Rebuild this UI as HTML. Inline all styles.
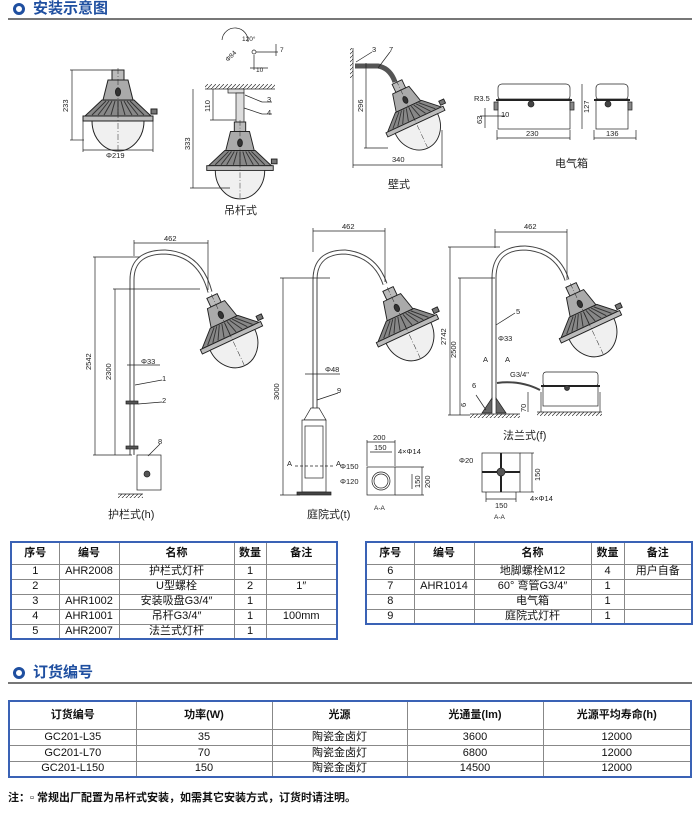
<!DOCTYPE html>
<html><head><meta charset="utf-8">
<style>
*{margin:0;padding:0;box-sizing:border-box}
body{width:700px;height:834px;background:#fff;position:relative;overflow:hidden;font-family:"Liberation Sans","Noto Sans CJK SC",sans-serif;color:#111}
.hd{position:absolute;left:8px;width:684px;border-bottom:2px solid #777;height:20px}
.hd span{position:absolute;left:25px;top:0;font-size:15px;font-weight:bold;color:#1f4fa0;line-height:18px}
.hd i{position:absolute;left:5px;top:3px;width:12px;height:12px;border:3px solid #1f4fa0;border-radius:50%}
table{position:absolute;border-collapse:collapse;border:2px solid #3a62b5;font-size:11px;text-align:center}
td{border:1px solid #888;padding:0;line-height:13px}
tr.h td{font-weight:bold;height:22px}
svg{position:absolute;left:0;top:0}
svg text{font-family:"Liberation Sans","Noto Sans CJK SC",sans-serif;fill:#222}
</style></head><body>
<div class="hd" style="top:0"><i></i><span>安装示意图</span></div>

<svg width="700" height="530" viewBox="0 0 700 530">
<defs>
<g id="lamp" stroke="#222" stroke-width="1" fill="#fff">
<rect x="-6" y="0" width="12" height="10" fill="#bbb"/>
<path d="M-10 10 L10 10 L15 30 L-15 30 Z" fill="#aaa"/>
<path d="M-16 30 L16 30 L33 46 L-33 46 Z" fill="#888"/>
<path d="M-12 31 L-26 45 M-6 31 L-14 45 M0 31 L0 45 M6 31 L14 45 M12 31 L26 45 M-9 31 L-20 45 M9 31 L20 45 M-3 31 L-7 45 M3 31 L7 45" stroke="#333"/>
<rect x="-35" y="46" width="70" height="5" fill="#bbb"/>
<path d="M-26 51 A26 30 0 0 0 26 51 Z" fill="#f0f0f0"/>
<line x1="0" y1="-2" x2="0" y2="80" stroke-dasharray="6 2 1 2" stroke-width="0.5"/>
<ellipse cx="0" cy="22" rx="2.5" ry="4" fill="#333"/>
<rect x="33" y="39" width="6" height="5" fill="#777"/>
</g>
<pattern id="hat" width="4" height="4" patternUnits="userSpaceOnUse"><path d="M0 4 L4 0" stroke="#333" stroke-width="0.7"/></pattern>
</defs>
<g stroke="#222" stroke-width="0.7" fill="none" font-size="8">
<use href="#lamp" transform="translate(118,70)"/>
<line x1="70" y1="70" x2="112" y2="70"/><line x1="70" y1="140" x2="84" y2="140"/><line x1="72" y1="70" x2="72" y2="140"/>
<line x1="83" y1="120" x2="83" y2="152"/><line x1="153" y1="120" x2="153" y2="152"/><line x1="83" y1="150" x2="153" y2="150"/>
<path d="M222 40 A12 12 0 0 1 248 42" /><circle cx="254" cy="52" r="2"/><line x1="256" y1="52" x2="278" y2="52"/><line x1="250" y1="68" x2="268" y2="68"/><line x1="276" y1="44" x2="276" y2="56"/><line x1="254" y1="55" x2="254" y2="70"/>
<line x1="205" y1="89" x2="275" y2="89"/><rect x="205" y="84" width="70" height="5" fill="url(#hat)" stroke="none"/>
<rect x="228" y="89" width="16" height="4" fill="#ddd"/><rect x="236" y="93" width="8" height="30" fill="#ddd"/>
<use href="#lamp" transform="translate(240,122) scale(0.95)"/>
<line x1="193" y1="89" x2="193" y2="188"/><line x1="190" y1="188" x2="230" y2="188"/>
<line x1="213" y1="89" x2="213" y2="120"/><line x1="210" y1="120" x2="236" y2="120"/>
<line x1="245" y1="95" x2="262" y2="102"/><line x1="262" y1="102" x2="272" y2="102"/><line x1="244" y1="108" x2="262" y2="114"/><line x1="262" y1="114" x2="272" y2="114"/>
<rect x="350" y="48" width="3" height="30" fill="url(#hat)" stroke="none"/><line x1="353" y1="48" x2="353" y2="80"/>
<path d="M355 66 L378 66 Q390 68 395 82" stroke-width="5" stroke="#555"/>
<use href="#lamp" transform="translate(397,82) rotate(-25) scale(0.9)"/>
<line x1="366" y1="63" x2="366" y2="148"/><line x1="364" y1="148" x2="388" y2="148"/>
<line x1="353" y1="80" x2="353" y2="168"/><line x1="442" y1="130" x2="442" y2="168"/><line x1="353" y1="165" x2="442" y2="165"/>
<line x1="356" y1="62" x2="372" y2="52"/><line x1="378" y1="68" x2="390" y2="52"/>
<rect x="498" y="84" width="72" height="16" rx="4" fill="#fff"/><rect x="498" y="99" width="72" height="30" fill="#fff"/><line x1="496" y1="100" x2="572" y2="100" stroke-width="2"/>
<circle cx="531" cy="104" r="3" fill="#444"/><rect x="494" y="102" width="4" height="8" fill="#888"/><rect x="570" y="102" width="4" height="8" fill="#888"/>
<rect x="596" y="84" width="32" height="16" rx="4"/><rect x="596" y="99" width="32" height="30"/><line x1="594" y1="100" x2="630" y2="100" stroke-width="2"/><circle cx="608" cy="104" r="3" fill="#444"/><rect x="628" y="102" width="4" height="8" fill="#888"/>
<line x1="497" y1="130" x2="497" y2="140"/><line x1="570" y1="130" x2="570" y2="140"/><line x1="497" y1="138" x2="570" y2="138"/>
<line x1="594" y1="130" x2="594" y2="140"/><line x1="636" y1="130" x2="636" y2="140"/><line x1="594" y1="138" x2="636" y2="138"/>
<line x1="582" y1="84" x2="582" y2="129"/><line x1="485" y1="108" x2="485" y2="128"/><line x1="480" y1="116" x2="505" y2="116"/>
<path d="M132 455 L132 280 Q132 252 165 252 Q200 254 210 292" stroke="#444" stroke-width="5"/>
<path d="M132 455 L132 280 Q132 252 165 252 Q200 254 210 292" stroke="#fff" stroke-width="3"/>
<use href="#lamp" transform="translate(212,296) rotate(-25) scale(0.95)"/>
<rect x="137" y="455" width="24" height="35" fill="#fff"/><circle cx="147" cy="474" r="3" fill="#555"/>
<rect x="126" y="401" width="12" height="3" fill="#555"/><rect x="126" y="446" width="12" height="3" fill="#555"/>
<rect x="118" y="494" width="25" height="4" fill="url(#hat)" stroke="none"/><line x1="118" y1="494" x2="143" y2="494"/>
<line x1="134" y1="240" x2="134" y2="256"/><line x1="208" y1="240" x2="208" y2="290"/><line x1="134" y1="243" x2="208" y2="243"/>
<line x1="93" y1="257" x2="140" y2="257"/><line x1="95" y1="257" x2="95" y2="455"/><line x1="93" y1="455" x2="132" y2="455"/>
<line x1="113" y1="289" x2="200" y2="289"/><line x1="115" y1="289" x2="115" y2="455"/>
<line x1="127" y1="365" x2="160" y2="365"/><line x1="135" y1="385" x2="162" y2="380"/><line x1="138" y1="404" x2="162" y2="402"/><line x1="148" y1="456" x2="160" y2="444"/>
<path d="M315 408 L315 280 Q315 252 345 252 Q375 255 385 284" stroke="#444" stroke-width="5"/>
<path d="M315 408 L315 280 Q315 252 345 252 Q375 255 385 284" stroke="#fff" stroke-width="3"/>
<use href="#lamp" transform="translate(388,289) rotate(-25) scale(0.95)"/>
<path d="M311 408 L319 408 L326 420 L304 420 Z" fill="#fff"/><rect x="302" y="420" width="24" height="72" fill="#fff"/><rect x="305" y="426" width="18" height="52"/><rect x="297" y="492" width="34" height="3" fill="#444"/>
<line x1="313" y1="228" x2="313" y2="252"/><line x1="385" y1="228" x2="385" y2="282"/><line x1="313" y1="231" x2="385" y2="231"/>
<line x1="280" y1="278" x2="330" y2="278"/><line x1="283" y1="278" x2="283" y2="495"/><line x1="280" y1="495" x2="300" y2="495"/>
<line x1="305" y1="374" x2="340" y2="374"/><line x1="317" y1="400" x2="338" y2="393"/><line x1="295" y1="466" x2="335" y2="466" stroke-dasharray="3 2"/>
<rect x="367" y="467" width="28" height="28"/><circle cx="381" cy="481" r="9"/><circle cx="381" cy="481" r="7"/>
<line x1="367" y1="442" x2="395" y2="442"/><line x1="370" y1="452" x2="392" y2="452"/><line x1="367" y1="440" x2="367" y2="466"/><line x1="395" y1="440" x2="395" y2="466"/>
<line x1="412" y1="474" x2="412" y2="489"/><line x1="422" y1="467" x2="422" y2="495"/><line x1="395" y1="467" x2="424" y2="467"/><line x1="395" y1="495" x2="424" y2="495"/>
<path d="M494 400 L494 278 Q494 248 525 248 Q557 250 567 280" stroke="#444" stroke-width="5"/>
<path d="M494 400 L494 278 Q494 248 525 248 Q557 250 567 280" stroke="#fff" stroke-width="3"/>
<use href="#lamp" transform="translate(571,285) rotate(-25) scale(0.95)"/>
<path d="M482 413 L492 398 L492 413 Z M506 413 L496 398 L496 413 Z" fill="#666"/>
<line x1="470" y1="414" x2="520" y2="414"/><rect x="470" y="414" width="50" height="4" fill="url(#hat)" stroke="none"/>
<path d="M497 383 Q520 380 540 390" stroke="#444" stroke-width="2"/>
<rect x="543" y="372" width="55" height="14" rx="3"/><rect x="543" y="386" width="55" height="20"/><line x1="541" y1="386" x2="600" y2="386" stroke-width="2"/><circle cx="567" cy="388" r="2.5" fill="#444"/>
<line x1="537" y1="412" x2="602" y2="412"/><rect x="537" y="412" width="65" height="4" fill="url(#hat)" stroke="none"/><line x1="541" y1="392" x2="541" y2="412"/><line x1="600" y1="392" x2="600" y2="412"/>
<line x1="495" y1="229" x2="495" y2="248"/><line x1="567" y1="229" x2="567" y2="280"/><line x1="495" y1="232" x2="567" y2="232"/>
<line x1="448" y1="247" x2="500" y2="247"/><line x1="450" y1="247" x2="450" y2="415"/><line x1="448" y1="415" x2="470" y2="415"/>
<line x1="458" y1="278" x2="495" y2="278"/><line x1="460" y1="278" x2="460" y2="415"/>
<line x1="528" y1="392" x2="528" y2="412"/><line x1="496" y1="325" x2="515" y2="313"/><line x1="476" y1="395" x2="486" y2="410"/>
<rect x="482" y="453" width="38" height="39"/><line x1="501" y1="453" x2="501" y2="492" stroke-width="2"/><line x1="482" y1="472" x2="520" y2="472" stroke-width="2"/><circle cx="501" cy="472" r="4" fill="#555"/>
<line x1="520" y1="453" x2="534" y2="453"/><line x1="520" y1="492" x2="534" y2="492"/><line x1="532" y1="453" x2="532" y2="492"/>
<line x1="486" y1="499" x2="516" y2="499"/><line x1="486" y1="492" x2="486" y2="502"/><line x1="516" y1="492" x2="516" y2="502"/>
</g>
<g font-size="7.5" stroke="none">
<text x="68" y="112" transform="rotate(-90 68 112)">233</text>
<text x="106" y="158">Φ219</text>
<text x="228" y="62" transform="rotate(-45 228 62)" font-size="6.5">Φ84</text>
<text x="242" y="41" font-size="6.5">120°</text><text x="256" y="72" font-size="6.5">10</text><text x="280" y="52" font-size="6.5">7</text>
<text x="190" y="150" transform="rotate(-90 190 150)">333</text><text x="210" y="112" transform="rotate(-90 210 112)">110</text>
<text x="267" y="102">3</text><text x="267" y="115">4</text>
<text x="372" y="52">3</text><text x="389" y="52">7</text>
<text x="363" y="112" transform="rotate(-90 363 112)">296</text><text x="392" y="162">340</text>
<text x="474" y="101">R3.5</text><text x="501" y="117">10</text><text x="482" y="124" transform="rotate(-90 482 124)">63</text>
<text x="526" y="136">230</text><text x="606" y="136">136</text><text x="589" y="113" transform="rotate(-90 589 113)">127</text>
<text x="164" y="241">462</text><text x="91" y="370" transform="rotate(-90 91 370)">2542</text><text x="111" y="380" transform="rotate(-90 111 380)">2300</text>
<text x="141" y="364">Φ33</text><text x="162" y="381">1</text><text x="162" y="403">2</text><text x="158" y="444">8</text>
<text x="342" y="229">462</text><text x="279" y="400" transform="rotate(-90 279 400)">3000</text><text x="325" y="372">Φ48</text><text x="337" y="393">9</text>
<text x="287" y="466">A</text><text x="336" y="466">A</text>
<text x="373" y="440">200</text><text x="374" y="450">150</text><text x="398" y="454">4×Φ14</text><text x="340" y="469">Φ150</text><text x="340" y="484">Φ120</text>
<text x="420" y="488" transform="rotate(-90 420 488)">150</text><text x="430" y="488" transform="rotate(-90 430 488)">200</text><text x="374" y="510" font-size="6.5">A-A</text>
<text x="524" y="229">462</text><text x="446" y="345" transform="rotate(-90 446 345)">2742</text><text x="456" y="358" transform="rotate(-90 456 358)">2500</text>
<text x="516" y="314">5</text><text x="498" y="341">Φ33</text><text x="483" y="362">A</text><text x="505" y="362">A</text><text x="510" y="377">G3/4"</text>
<text x="472" y="388">6</text><text x="466" y="407" transform="rotate(-90 466 407)">6</text><text x="526" y="412" transform="rotate(-90 526 412)">70</text>
<text x="459" y="463">Φ20</text><text x="540" y="481" transform="rotate(-90 540 481)">150</text><text x="495" y="508">150</text><text x="530" y="501">4×Φ14</text><text x="494" y="519" font-size="6.5">A-A</text>
</g>
<g font-size="11" stroke="none">
<text x="224" y="214">吊杆式</text><text x="388" y="188">壁式</text><text x="555" y="167">电气箱</text>
<text x="108" y="518">护栏式(h)</text><text x="307" y="518">庭院式(t)</text><text x="503" y="439">法兰式(f)</text>
</g>
</svg>

<table style="left:10px;top:541px;width:328px">
<colgroup><col style="width:48px"><col style="width:60px"><col style="width:115px"><col style="width:32px"><col></colgroup>
<tr class="h"><td>序号</td><td>编号</td><td>名称</td><td>数量</td><td>备注</td></tr>
<tr><td style="height:15px">1</td><td>AHR2008</td><td>护栏式灯杆</td><td>1</td><td></td></tr>
<tr><td style="height:15px">2</td><td></td><td>U型螺栓</td><td>2</td><td>1″</td></tr>
<tr><td style="height:15px">3</td><td>AHR1002</td><td>安装吸盘G3/4″</td><td>1</td><td></td></tr>
<tr><td style="height:15px">4</td><td>AHR1001</td><td>吊杆G3/4″</td><td>1</td><td>100mm</td></tr>
<tr><td style="height:15px">5</td><td>AHR2007</td><td>法兰式灯杆</td><td>1</td><td></td></tr>
</table>
<table style="left:365px;top:541px;width:328px">
<colgroup><col style="width:48px"><col style="width:60px"><col style="width:117px"><col style="width:33px"><col></colgroup>
<tr class="h"><td>序号</td><td>编号</td><td>名称</td><td>数量</td><td>备注</td></tr>
<tr><td style="height:15px">6</td><td></td><td>地脚螺栓M12</td><td>4</td><td>用户自备</td></tr>
<tr><td style="height:15px">7</td><td>AHR1014</td><td>60° 弯管G3/4″</td><td>1</td><td></td></tr>
<tr><td style="height:15px">8</td><td></td><td>电气箱</td><td>1</td><td></td></tr>
<tr><td style="height:15px">9</td><td></td><td>庭院式灯杆</td><td>1</td><td></td></tr>
</table>

<div class="hd" style="top:664px"><i></i><span>订货编号</span></div>
<table style="left:8px;top:700px;width:684px">
<colgroup><col style="width:127px"><col style="width:136px"><col style="width:135px"><col style="width:136px"><col></colgroup>
<tr class="h"><td style="height:28px">订货编号</td><td>功率(W)</td><td>光源</td><td>光通量(lm)</td><td>光源平均寿命(h)</td></tr>
<tr><td style="height:16px">GC201-L35</td><td>35</td><td>陶瓷金卤灯</td><td>3600</td><td>12000</td></tr>
<tr><td style="height:16px">GC201-L70</td><td>70</td><td>陶瓷金卤灯</td><td>6800</td><td>12000</td></tr>
<tr><td style="height:16px">GC201-L150</td><td>150</td><td>陶瓷金卤灯</td><td>14500</td><td>12000</td></tr>
</table>
<div style="position:absolute;left:8px;top:789px;font-size:11px;font-weight:bold">注：▫ 常规出厂配置为吊杆式安装，如需其它安装方式，订货时请注明。</div>
</body></html>
